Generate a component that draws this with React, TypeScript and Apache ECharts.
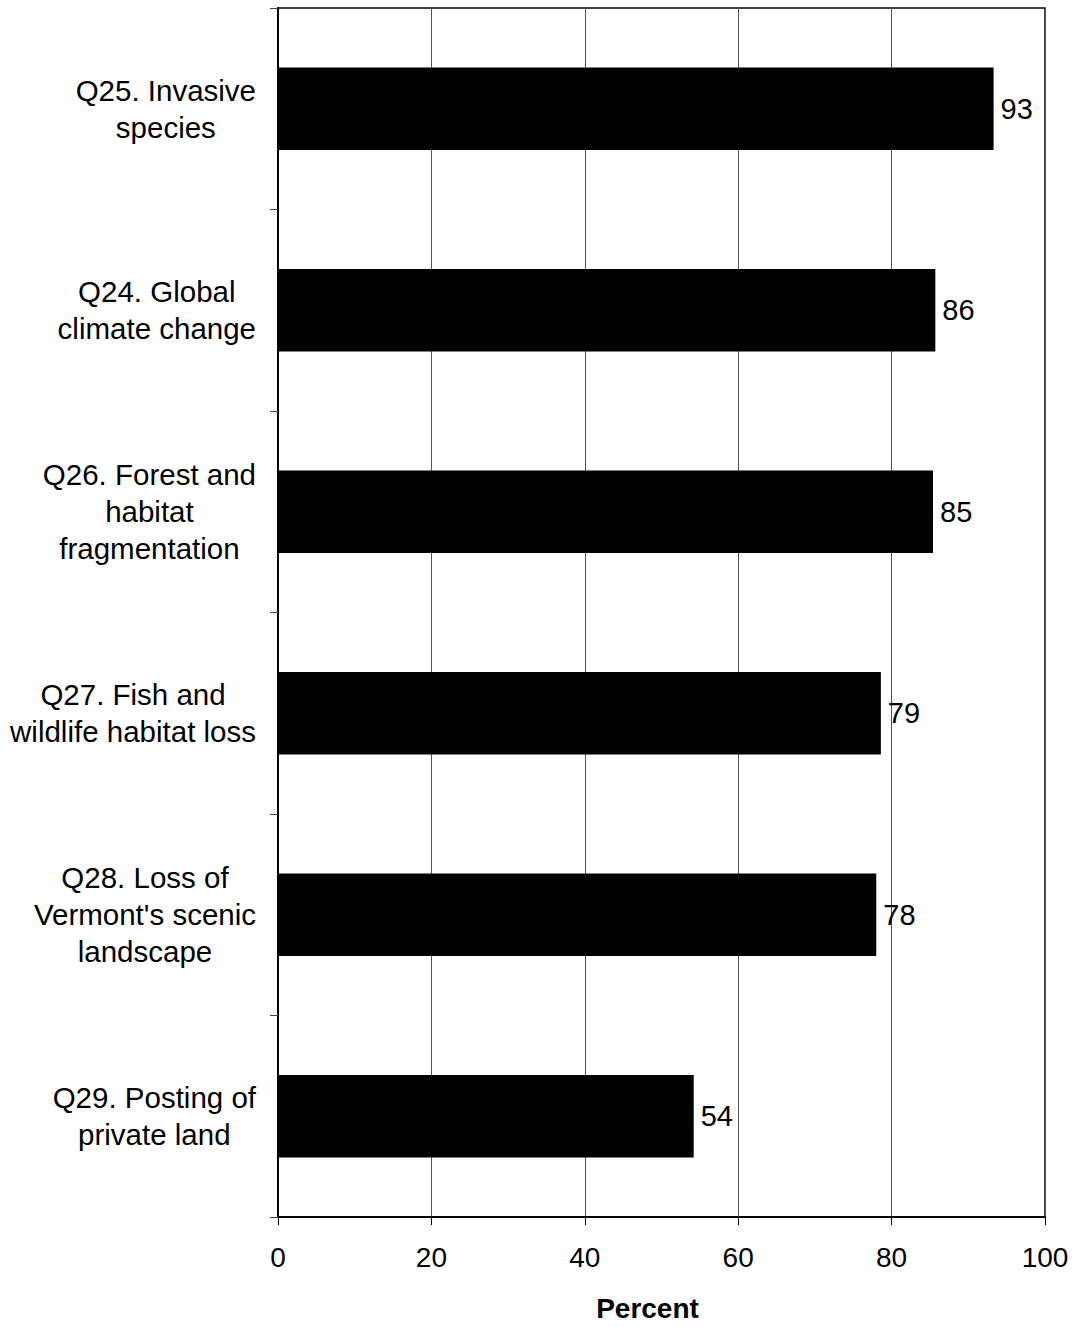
import React, { useEffect, useRef } from "react";
import * as echarts from "echarts";

const categories: string[] = [
  "Q25. Invasive\nspecies",
  "Q24. Global\nclimate change",
  "Q26. Forest and\nhabitat\nfragmentation",
  "Q27. Fish and\nwildlife habitat loss",
  "Q28. Loss of\nVermont's scenic\nlandscape",
  "Q29. Posting of\nprivate land",
];
const values: number[] = [93.3, 85.7, 85.4, 78.6, 78.0, 54.2];
const xTicks = { min: 0, max: 100, interval: 20 };
const axisTitle = "Percent";

const FONT = "'Liberation Sans', Arial, Helvetica, sans-serif";

export default function App() {
  const ref = useRef<HTMLDivElement>(null);
  useEffect(() => {
    if (!ref.current) return;
    const chart = echarts.init(ref.current, undefined, { renderer: "svg" });
    chart.setOption({
      animation: false,
      backgroundColor: "#ffffff",
      textStyle: { fontFamily: FONT, color: "#000" },
      grid: {
        left: 278,
        right: 31,
        top: 8,
        bottom: 107,
        show: true,
        borderColor: "#000",
        borderWidth: 1.5,
        containLabel: false,
      },
      xAxis: {
        type: "value",
        min: xTicks.min,
        max: xTicks.max,
        interval: xTicks.interval,
        name: axisTitle,
        nameLocation: "middle",
        nameGap: 77,
        nameTextStyle: {
          fontFamily: FONT,
          fontSize: 28,
          fontWeight: "bold",
          color: "#000",
          padding: [0, 28, 0, 0],
        },
        axisLine: { show: true, onZero: false, lineStyle: { color: "#000", width: 2 } },
        axisTick: { show: true, inside: false, length: 8, lineStyle: { color: "#000", width: 1 } },
        axisLabel: { fontFamily: FONT, fontSize: 28, color: "#000", margin: 26 },
        splitLine: { show: true, lineStyle: { color: "#555", width: 1 } },
      },
      yAxis: {
        type: "category",
        data: categories,
        inverse: true,
        axisLine: { show: true, lineStyle: { color: "#000", width: 2 } },
        axisTick: { show: true, inside: false, length: 8, lineStyle: { color: "#444", width: 1 } },
        axisLabel: {
          margin: 22,
          color: "#000",
          fontFamily: FONT,
          fontSize: 29.5,
          lineHeight: 37,
          formatter: (v: string) =>
            v.split("\n").map((l) => `{c|${l}}`).join("\n"),
          rich: {
            c: { align: "center", fontFamily: FONT, fontSize: 29.5, lineHeight: 37, color: "#000" },
          },
        },
        splitLine: { show: false },
      },
      series: [
        {
          type: "bar",
          data: values,
          barCategoryGap: "59%",
          itemStyle: { color: "#000" },
          label: {
            show: true,
            position: "right",
            distance: 7,
            fontFamily: FONT,
            fontSize: 29,
            color: "#000",
            formatter: (p: any) => String(Math.round(p.value)),
          },
        },
      ],
    });
    return () => chart.dispose();
  }, []);
  return (
    <div
      ref={ref}
      style={{ position: "fixed", left: 0, top: 0, width: 1076, height: 1327 }}
    />
  );
}
